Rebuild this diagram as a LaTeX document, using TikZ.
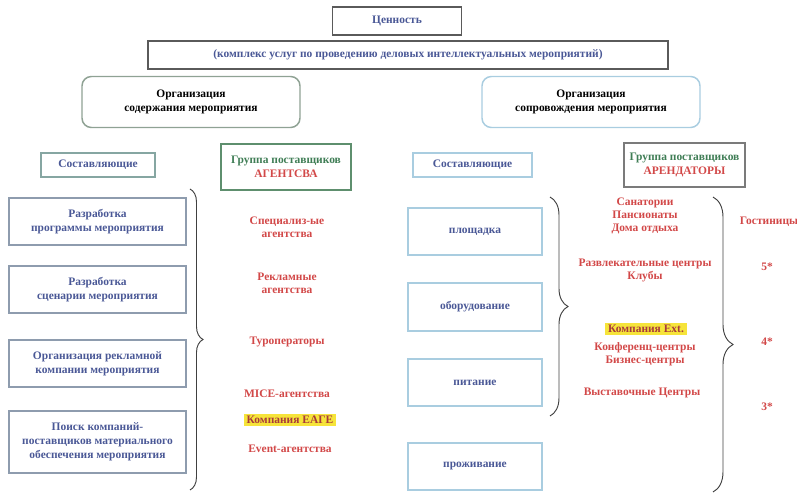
\documentclass[tikz,border=0pt]{standalone}
\usepackage{fontspec}
\setmainfont{Liberation Serif}
\usetikzlibrary{decorations.pathreplacing}
\definecolor{txtblue}{HTML}{4A5896}
\definecolor{txtred}{HTML}{D24848}
\definecolor{txtgreen}{HTML}{3F7D55}
\definecolor{lnGray}{HTML}{5A5A5A}
\definecolor{lnSage}{HTML}{8FA294}
\definecolor{lnSky}{HTML}{A9CDE0}
\definecolor{lnTeal}{HTML}{86A6A2}
\definecolor{lnGreen}{HTML}{5E8F6E}
\definecolor{lnSlate}{HTML}{8E9CAE}
\definecolor{hlYellow}{HTML}{F6E43A}
\tikzset{
  sz/.style 2 args={minimum width=#1*0.75pt, minimum height=#2*0.75pt},
  base/.style={font=\bfseries\fontsize{8.6}{10.6}\selectfont, align=center, inner sep=0pt},
  box/.style={base, draw=#1, line width=0.8pt},
  rbox/.style={base, draw=#1, line width=1.1pt, rounded corners=7pt, text=black},
  redtxt/.style={base, text=txtred, font=\bfseries\fontsize{8.6}{9.8}\selectfont},
  hl/.style={redtxt, fill=hlYellow, inner xsep=2pt, inner ysep=1.5pt, text=txtred!80!black},
  brc/.style={decorate, decoration={brace, amplitude=#1}, line width=0.7pt, draw=black!75},
}
\begin{document}
\begin{tikzpicture}[x=0.75pt, y=-0.75pt]
\useasboundingbox (0,0) rectangle (797,495);
% header
\node[box=lnGray, text=txtblue, sz={129}{28}] (val) at (397,21) {Ценность};
\node[box=lnGray, text=txtblue, sz={520}{28}] (wide) at (408,55) {(комплекс услуг по проведению деловых интеллектуальных мероприятий)};
\node[rbox=lnSage, sz={218}{51}] (orgL) at (191,102) {Организация\\содержания мероприятия};
\node[rbox=lnSky, sz={218}{51}] (orgR) at (591,102) {Организация\\сопровождения мероприятия};
% left column
\node[box=lnTeal, text=txtblue, sz={114}{24}] (compL) at (98,165) {Составляющие};
\node[box=lnGreen, text=txtgreen, sz={130}{46}] (grpA) at (286,167) {Группа поставщиков\\\textcolor{txtred}{АГЕНТСВА}};
\node[box=lnSlate, text=txtblue, sz={177}{47}] (b1) at (97.5,221.5) {Разработка\\программы мероприятия};
\node[box=lnSlate, text=txtblue, sz={177}{47}] (b2) at (97.5,289.5) {Разработка\\сценарии мероприятия};
\node[box=lnSlate, text=txtblue, sz={177}{47}] (b3) at (97.5,363.5) {Организация рекламной\\компании мероприятия};
\node[box=lnSlate, text=txtblue, sz={177}{62}] (b4) at (97.5,442) {Поиск компаний-\\поставщиков материального\\обеспечения мероприятия};
\coordinate (bLtop) at (190,189);
\coordinate (bLbot) at (190,490);
\draw[brc=13*0.75pt] (bLtop) -- (bLbot);
\node[redtxt] (a1) at (287,227) {Специализ-ые\\агентства};
\node[redtxt] (a2) at (287,283) {Рекламные\\агентства};
\node[redtxt] (a3) at (287,342) {Туроператоры};
\node[redtxt] (a4) at (287,394) {MICE-агентства};
\node[hl] (a5) at (290,420) {Компания ЕАГЕ};
\node[redtxt] (a6) at (290,449) {Event-агентства};
% right column
\node[box=lnSky, text=txtblue, sz={119}{24}] (compR) at (472.5,165) {Составляющие};
\node[box=lnGray!80, text=txtgreen, sz={121}{44}] (grpR) at (684.5,165) {Группа поставщиков\\\textcolor{txtred}{АРЕНДАТОРЫ}};
\node[box=lnSky, text=txtblue, sz={134}{47}] (r1) at (475,231.5) {площадка};
\node[box=lnSky, text=txtblue, sz={134}{48}] (r2) at (475,307) {оборудование};
\node[box=lnSky, text=txtblue, sz={134}{47}] (r3) at (475,382.5) {питание};
\node[box=lnSky, text=txtblue, sz={134}{47}] (r4) at (475,466.5) {проживание};
\coordinate (bMtop) at (550,197);
\coordinate (bMbot) at (550,416);
\draw[brc=18*0.75pt] (bMtop) -- (bMbot);
\coordinate (bRtop) at (713,197);
\coordinate (bRbot) at (713,492);
\draw[brc=20*0.75pt] (bRtop) -- (bRbot);
\node[redtxt, font=\bfseries\fontsize{8.6}{9.8}\selectfont] (s1) at (645,216) {Санатории\\Пансионаты\\Дома отдыха};
\node[redtxt] (s2) at (645,270.5) {Развлекательные центры\\Клубы};
\node[hl] (s3) at (646,329) {Компания Ext.};
\node[redtxt] (s4) at (645,354) {Конференц-центры\\Бизнес-центры};
\node[redtxt] (s5) at (642,393) {Выставочные Центры};
\node[redtxt] (h0) at (769,222) {Гостиницы};
\node[redtxt] (h5) at (767,267) {5*};
\node[redtxt] (h4) at (767,342) {4*};
\node[redtxt] (h3) at (767,407) {3*};
\end{tikzpicture}
\end{document}
